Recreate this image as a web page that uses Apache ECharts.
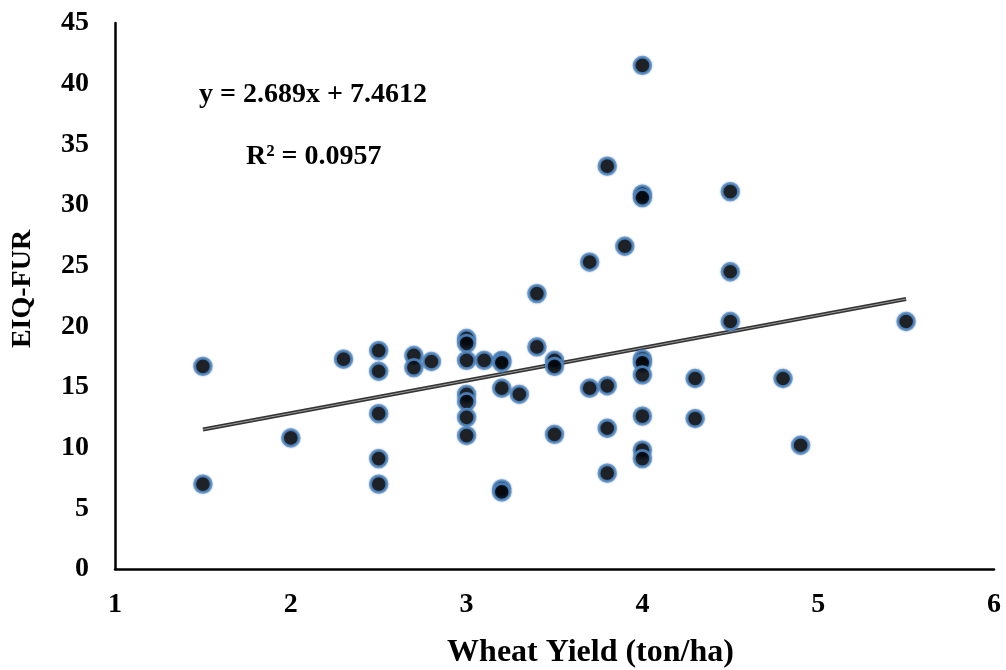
<!DOCTYPE html>
<html>
<head>
<meta charset="utf-8">
<script src="https://cdn.jsdelivr.net/npm/echarts@6/dist/echarts.min.js"></script>
<style>
html,body{margin:0;padding:0;background:#fff;}
#c{width:1006px;height:670px;}
</style>
</head>
<body>
<div id="c"></div>
<script>
var yieldX = [1.5,1.5,2.0,2.3,2.5,2.5,2.5,2.5,2.5,2.7,2.7,2.8,3.0,3.0,3.0,3.0,3.0,3.0,3.0,3.1,3.2,3.2,3.2,3.2,3.2,3.3,3.4,3.4,3.5,3.5,3.5,3.7,3.7,3.8,3.8,3.8,3.8,3.9,4.0,4.0,4.0,4.0,4.0,4.0,4.0,4.0,4.0,4.3,4.3,4.5,4.5,4.5,4.8,4.9,5.5];
var eiqY = [16.7,7.0,10.8,17.3,18.0,16.3,12.8,9.1,7.0,17.6,16.6,17.1,19.0,18.6,17.2,14.4,13.8,12.5,11.0,17.2,17.2,17.0,14.9,6.6,6.35,14.4,22.7,18.3,17.2,16.7,11.1,25.3,14.9,33.2,15.1,11.6,7.9,26.6,41.5,30.9,30.6,17.3,17.0,16.0,12.6,9.8,9.1,15.7,12.4,31.1,24.5,20.4,15.7,10.2,20.4];
var trendCoef = [2.689, 7.4612];
var trendRange = [1.5, 5.5];
var xTicks = [1,2,3,4,5,6];
var yTicks = [0,5,10,15,20,25,30,35,40,45];

var pts = yieldX.map(function(x,i){return [x, eiqY[i]];});
var trend = trendRange.map(function(x){return [x, trendCoef[0]*x + trendCoef[1]];});
var FONT = "'Liberation Serif','Times New Roman',serif";

var chart = echarts.init(document.getElementById('c'));
chart.setOption({
  backgroundColor:'#fff',
  animation:false,
  grid:{left:115,right:12,top:23,bottom:101,containLabel:false,outerBoundsMode:'none'},
  xAxis:{
    type:'value', min:xTicks[0], max:xTicks[xTicks.length-1], interval:1,
    name:'Wheat Yield (ton/ha)', nameLocation:'middle', nameGap:68,
    nameTextStyle:{fontFamily:FONT,fontWeight:'bold',fontSize:32,color:'#000',padding:[0,0,0,72]},
    axisLine:{lineStyle:{color:'#000',width:2.5}},
    axisTick:{show:false}, splitLine:{show:false},
    axisLabel:{margin:22,fontFamily:FONT,fontWeight:'bold',fontSize:28,color:'#000'}
  },
  yAxis:{
    type:'value', min:yTicks[0], max:yTicks[yTicks.length-1], interval:5,
    name:'EIQ-FUR', nameLocation:'middle', nameGap:78, nameRotate:90,
    nameTextStyle:{fontFamily:FONT,fontWeight:'bold',fontSize:28,color:'#000',padding:[0,0,0,14]},
    axisLine:{show:true,lineStyle:{color:'#000',width:2.5}},
    axisTick:{show:false}, splitLine:{show:false},
    axisLabel:{margin:26,fontFamily:FONT,fontWeight:'bold',fontSize:28,color:'#000'}
  },
  graphic:[
    {type:'text',left:199,top:81,style:{text:'y = 2.689x + 7.4612',font:'bold 28px '+FONT,fill:'#000'}},
    {type:'text',left:246,top:143,style:{text:'R² = 0.0957',font:'bold 28px '+FONT,fill:'#000'}}
  ],
  series:[
    {type:'line',data:trend,symbol:'none',z:1,lineStyle:{color:'#333',width:4}},
    {type:'line',data:trend,symbol:'none',z:2,lineStyle:{color:'#999',width:1}},
    {type:'scatter',data:pts,symbol:'circle',symbolSize:16.5,z:5,
     itemStyle:{color:'#000',borderColor:'#5592CF',borderWidth:2.8,shadowBlur:2,shadowColor:'rgba(40,70,110,0.6)'}}
  ]
});
</script>
</body>
</html>
